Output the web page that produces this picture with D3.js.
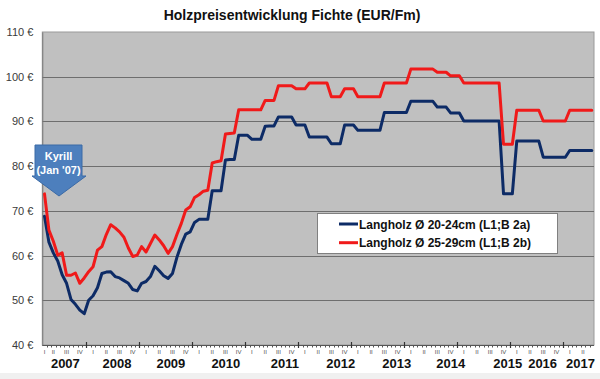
<!DOCTYPE html>
<html><head><meta charset="utf-8">
<script src="https://cdn.jsdelivr.net/npm/d3@7"></script>
<style>body{margin:0;background:#fff}svg{display:block}</style>
</head><body><svg id="c" width="600" height="379"></svg>
<script>
// ---- data (monthly, March 2007 .. July 2017) ----
const startYear = 2007, startMonth = 3; // first data point: March 2007
const seriesNames = ["Langholz Ø 20-24cm (L1;B 2a)", "Langholz Ø 25-29cm (L1;B 2b)"];
const langholz2024 = [
  68.8, 63.0, 60.6, 58.8, 55.7, 53.8, 50.2, 49.1, 47.8, 47.0,
  50.0, 51.0, 52.8, 56.0, 56.3, 56.4, 55.3, 55.0, 54.4, 53.8, 52.4, 52.1,
  53.8, 54.2, 55.3, 57.6, 56.6, 55.5, 54.9, 56.0, 59.6, 62.5, 64.8, 65.3,
  67.4, 68.1, 68.1, 68.1, 74.5, 74.5, 74.5, 81.4, 81.5, 81.5, 86.9, 86.9,
  86.9, 86.0, 86.0, 86.0, 88.9, 89.0, 89.0, 91.0, 91.0, 91.0, 91.0, 89.2,
  89.2, 89.2, 86.5, 86.5, 86.5, 86.5, 86.5, 85.0, 85.0, 85.0, 89.2, 89.2,
  89.2, 88.0, 88.0, 88.0, 88.0, 88.0, 88.0, 92.0, 92.0, 92.0, 92.0, 92.0,
  92.0, 94.5, 94.5, 94.5, 94.5, 94.5, 94.5, 93.2, 93.2, 93.2, 91.9, 91.9,
  91.9, 90.1, 90.1, 90.1, 90.1, 90.1, 90.1, 90.1, 90.1, 90.1, 73.8, 73.8,
  73.8, 85.6, 85.6, 85.6, 85.6, 85.6, 85.6, 82.0, 82.0, 82.0, 82.0, 82.0,
  82.0, 83.5, 83.5, 83.5, 83.5, 83.5, 83.5
];
const langholz2529 = [
  73.8, 65.7, 63.2, 60.1, 60.6, 55.6, 55.6, 56.1, 53.8, 55.0,
  56.4, 57.5, 61.2, 62.0, 64.7, 66.9, 66.2, 65.3, 64.1, 61.7, 59.8, 60.1,
  62.0, 60.8, 62.7, 64.6, 63.5, 62.2, 60.5, 62.0, 64.7, 67.2, 70.2, 70.9,
  73.0, 73.6, 74.4, 74.6, 80.7, 81.0, 81.2, 87.2, 87.3, 87.4, 92.6, 92.6,
  92.6, 92.6, 92.6, 92.6, 94.7, 94.7, 94.7, 98.0, 98.0, 98.0, 98.0, 97.3,
  97.3, 97.3, 98.6, 98.6, 98.6, 98.6, 98.6, 95.5, 95.5, 95.5, 97.3, 97.3,
  97.3, 95.5, 95.5, 95.5, 95.5, 95.5, 95.5, 98.6, 98.6, 98.6, 98.6, 98.6,
  98.6, 101.7, 101.7, 101.7, 101.7, 101.7, 101.7, 101.0, 101.0, 101.0, 100.2, 100.2,
  100.2, 98.6, 98.6, 98.6, 98.6, 98.6, 98.6, 98.6, 98.6, 98.6, 84.9, 84.9,
  84.9, 92.5, 92.5, 92.5, 92.5, 92.5, 92.5, 90.1, 90.1, 90.1, 90.1, 90.1,
  90.1, 92.5, 92.5, 92.5, 92.5, 92.5, 92.5
];
const years = [2007, 2008, 2009, 2010, 2011, 2012, 2013, 2014, 2015, 2016, 2017];
const quarterLabels = ["I", "II", "III", "IV"];
const yTicks = [40, 50, 60, 70, 80, 90, 100, 110];
const callout = ["Kyrill", "(Jan '07)"];

// ---- layout ----
const colors = ["#0d2b66", "#f01a1a"];
const yearLabelShift = [1, 4, 5, 7, 13, 16, 19, 20, 24, 6, 2]; // px offsets of year labels
const L = 42.3, R = 594, T = 32, B = 345;

const svg = d3.select("#c");
const firstT = (startMonth - 1);                 // months since Jan 2007
const nPts = langholz2024.length;
const x = d3.scaleLinear().domain([firstT, firstT + nPts]).range([L, R]);
const y = d3.scaleLinear().domain([40, 110]).range([B, T]);

svg.append("rect").attr("x", 0).attr("y", 373).attr("width", 600).attr("height", 6).attr("fill", "#f0f0f0");

// plot area
svg.append("rect").attr("x", L).attr("y", T).attr("width", R - L).attr("height", B - T)
  .attr("fill", "#c0c0c0").attr("stroke", "#9a9a9a").attr("stroke-width", 1);

// gridlines
svg.append("g").selectAll("line").data(yTicks.filter(d => d > 40 && d < 110)).join("line")
  .attr("x1", L).attr("x2", R).attr("y1", d => Math.round(y(d)) + 0.5).attr("y2", d => Math.round(y(d)) + 0.5)
  .attr("stroke", "#6e6e6e").attr("stroke-width", 1);

// y axis
const yAxis = d3.axisLeft(y).tickValues(yTicks).tickSize(0).tickPadding(9).tickFormat(d => d + " €");
const gy = svg.append("g").attr("transform", `translate(${L},0)`).call(yAxis);
gy.select(".domain").attr("stroke", "#7a7a7a");
gy.selectAll("text").attr("font-family", "Liberation Sans, Arial, sans-serif").attr("font-size", 11).attr("fill", "#3a3a3a");

// x axis: monthly minor ticks, yearly major ticks
const monthTicks = d3.range(firstT + 1, firstT + nPts);
const gx = svg.append("g");
gx.append("line").attr("x1", L).attr("x2", R).attr("y1", B + 0.5).attr("y2", B + 0.5).attr("stroke", "#555");
gx.selectAll(".mt").data(monthTicks.filter(t => t % 12 !== 0)).join("line")
  .attr("x1", d => Math.round(x(d)) + 0.5).attr("x2", d => Math.round(x(d)) + 0.5)
  .attr("y1", B).attr("y2", B + 2.5).attr("stroke", "#555");
gx.selectAll(".yt").data(monthTicks.filter(t => t % 12 === 0)).join("line")
  .attr("x1", d => Math.round(x(d)) + 0.5).attr("x2", d => Math.round(x(d)) + 0.5)
  .attr("y1", B - 3).attr("y2", B + 3).attr("stroke", "#333").attr("stroke-width", 1.2);

// quarter labels
const qData = [];
years.forEach((yr, i) => quarterLabels.forEach((q, k) => {
  const t0 = Math.max((yr - 2007) * 12 + k * 3, firstT);
  const t1 = Math.min((yr - 2007) * 12 + k * 3 + 3, firstT + nPts);
  if (t1 - t0 >= 1 && (yr - 2007) * 12 + k * 3 + 1.5 < firstT + nPts) qData.push({q, t: (t0 + t1) / 2});
}));
gx.selectAll(".ql").data(qData).join("text")
  .attr("x", d => x(d.t)).attr("y", 354).attr("text-anchor", "middle")
  .attr("font-family", "Liberation Sans Narrow, Liberation Sans, Arial, sans-serif").attr("font-size", 6)
  .attr("fill", "#505050").text(d => d.q);

// year labels
gx.selectAll(".yl").data(years).join("text")
  .attr("x", (d, i) => x(Math.max((d - 2007) * 12, firstT) / 2 + Math.min((d - 2006) * 12, firstT + nPts) / 2) + yearLabelShift[i])
  .attr("y", 368).attr("text-anchor", "middle")
  .attr("font-family", "Liberation Sans, Arial, sans-serif").attr("font-weight", "bold").attr("font-size", 13)
  .attr("fill", "#111").text(d => d);

// lines
const line = d3.line().x((d, i) => x(firstT + i + 0.5)).y(d => y(d)).curve(d3.curveLinear);
[langholz2024, langholz2529].forEach((s, i) => {
  svg.append("path").datum(s).attr("d", line).attr("fill", "none")
    .attr("stroke", colors[i]).attr("stroke-width", 3).attr("stroke-linejoin", "round").attr("stroke-linecap", "round");
});

// title
svg.append("text").attr("x", 292).attr("y", 20).attr("text-anchor", "middle")
  .attr("font-family", "Liberation Sans, Arial, sans-serif").attr("font-weight", "bold").attr("font-size", 14)
  .attr("fill", "#111").text("Holzpreisentwicklung Fichte (EUR/Fm)");

// legend
const lg = svg.append("g");
lg.append("rect").attr("x", 317.5).attr("y", 213.5).attr("width", 240).attr("height", 40)
  .attr("fill", "#fff").attr("stroke", "#808080");
seriesNames.forEach((n, i) => {
  const yy = 224 + i * 18.7;
  lg.append("line").attr("x1", 339).attr("x2", 358).attr("y1", yy).attr("y2", yy).attr("stroke", colors[i]).attr("stroke-width", 3);
  lg.append("text").attr("x", 359).attr("y", yy + 4.5).attr("font-family", "Liberation Sans, Arial, sans-serif")
    .attr("font-weight", "bold").attr("font-size", 12).attr("fill", "#111").text(n);
});

// Kyrill callout
const cg = svg.append("g");
cg.append("path").attr("d", "M35,145 L82,145 L82,176 L86,176 L59,196 L32,176 L35,176 Z")
  .attr("fill", "#4d7fbd").attr("stroke", "#3b6aa6").attr("stroke-width", 1);
callout.forEach((t, i) => cg.append("text").attr("x", 58.5).attr("y", 160 + i * 14).attr("text-anchor", "middle")
  .attr("font-family", "Liberation Sans, Arial, sans-serif").attr("font-weight", "bold").attr("font-size", 11)
  .attr("fill", "#fff").text(t));
</script></body></html>
